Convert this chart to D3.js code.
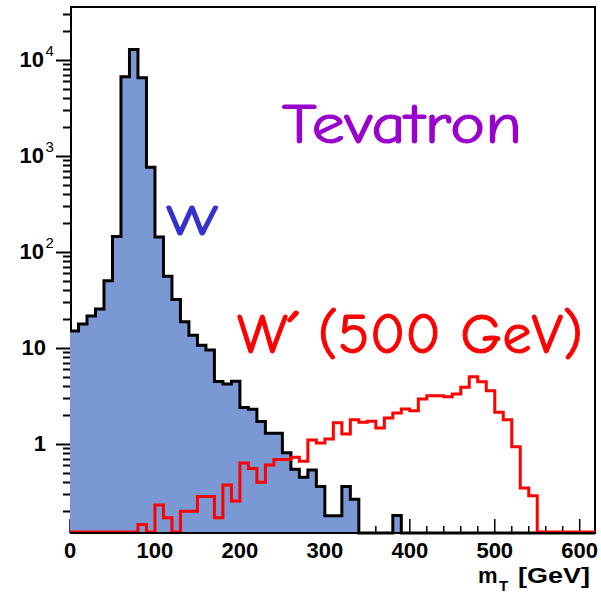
<!DOCTYPE html>
<html>
<head>
<meta charset="utf-8">
<script src="https://cdn.jsdelivr.net/npm/d3@7"></script>
<style>
  html, body { margin: 0; padding: 0; background: #fff; }
  svg { display: block; }
</style>
</head>
<body>
<script>
// Transverse mass spectra, 10 GeV bins
const binLow = [
  0, 10, 20, 30, 40, 50, 60, 70, 80, 90,
  100, 110, 120, 130, 140, 150, 160, 170, 180, 190,
  200, 210, 220, 230, 240, 250, 260, 270, 280, 290,
  300, 310, 320, 330, 340, 350, 360, 370, 380, 390,
  400, 410, 420, 430, 440, 450, 460, 470, 480, 490,
  500, 510, 520, 530, 540, 550, 560, 570, 580, 590,
  600, 610
];
const binWidth = 10;

// Standard Model W events
const wCounts = [
  15, 17.8, 21.5, 25.5, 50, 145, 6700, 12900, 6540, 765,
  143, 56, 32, 18.8, 13.6, 10.7, 9.5, 4.46, 4.2, 4.5,
  2.39, 2.3, 1.71, 1.29, 1.29, 0.81, 0.545, 0.45, 0.536, 0.36,
  0.178, 0.178, 0.36, 0.265, 0, 0, 0, 0, 0.18, 0,
  0, 0, 0, 0, 0, 0, 0, 0, 0, 0,
  0, 0, 0, 0, 0, 0, 0, 0, 0, 0,
  0, 0
];

// W' signal, 500 GeV
const wPrimeCounts = [
  0, 0, 0, 0, 0, 0, 0, 0, 0.141, 0,
  0.226, 0.166, 0, 0.194, 0.194, 0.276, 0.276, 0.166, 0.365, 0.249,
  0.617, 0.54, 0.39, 0.59, 0.67, 0.67, 0.71, 0.645, 1.07, 1.0,
  1.1, 1.62, 1.24, 1.74, 1.64, 1.68, 1.43, 1.82, 2.05, 2.26,
  2.17, 2.87, 3.11, 3.11, 3.03, 3.24, 3.8, 4.9, 4.35, 3.5,
  2.09, 1.74, 0.915, 0.34, 0.282, 0, 0, 0, 0, 0,
  0, 0
];

const xMajorTicks = [0, 100, 200, 300, 400, 500, 600];
const yDecadeLabels = [
  { v: 1, base: "1", exp: null },
  { v: 10, base: "10", exp: null },
  { v: 100, base: "10", exp: "2" },
  { v: 1000, base: "10", exp: "3" },
  { v: 10000, base: "10", exp: "4" }
];

const W = 601, H = 593;
const padL = 70, padR = 595, padT = 7, padB = 533;

const x = d3.scaleLinear().domain([0, 618]).range([padL, padR]);
const y = d3.scaleLog().domain([0.118, 35700]).range([padB, padT]);

const svg = d3.select("body").append("svg")
  .attr("width", W).attr("height", H);

const defs = svg.append("defs");
defs.append("clipPath").attr("id", "plotClip")
  .append("rect").attr("x", padL).attr("y", padT - 2)
  .attr("width", padR - padL).attr("height", padB - padT + 4);

// Frame
svg.append("rect")
  .attr("x", padL + 1).attr("y", padT).attr("width", padR - padL - 1).attr("height", padB - padT)
  .attr("fill", "none").attr("stroke", "#000").attr("stroke-width", 2);

// Y ticks (log minor ticks, outside)
const yMin = y.domain()[0], yMax = y.domain()[1];
const yTickVals = [];
for (let e = -1; e <= 4; e++) {
  for (let m = 1; m <= 9; m++) {
    const v = m * Math.pow(10, e);
    if (v >= yMin && v <= yMax) yTickVals.push({ v, major: m === 1 });
  }
}
svg.append("g").selectAll("line").data(yTickVals).join("line")
  .attr("x1", d => d.major ? 56 : 63).attr("x2", padL + 1)
  .attr("y1", d => Math.round(y(d.v)) + 0.5).attr("y2", d => Math.round(y(d.v)) + 0.5)
  .attr("stroke", "#000").attr("stroke-width", 2);

// X ticks (inside)
const xTickVals = [];
for (let v = 0; v <= 618; v += 20) xTickVals.push({ v, major: v % 100 === 0 });
svg.append("g").selectAll("line").data(xTickVals).join("line")
  .attr("x1", d => x(d.v)).attr("x2", d => x(d.v))
  .attr("y1", padB).attr("y2", d => padB - (d.major ? 14 : 7))
  .attr("stroke", "#000").attr("stroke-width", 1.5);

// Histograms
const hv = v => v > 0 ? y(v) : padB;
function stepPoints(vals) {
  const pts = binLow.map((lo, i) => [x(lo), hv(vals[i])]);
  pts.push([x(binLow[binLow.length - 1] + binWidth), hv(vals[vals.length - 1])]);
  return pts;
}
const plot = svg.append("g").attr("clip-path", "url(#plotClip)");

const wPts = stepPoints(wCounts);
plot.append("path")
  .attr("d", d3.area().curve(d3.curveStepAfter).x(d => d[0]).y0(padB).y1(d => d[1])(wPts))
  .attr("fill", "#7a99d4");

// Bottom axis line stays visible under the fill edge
svg.append("line").attr("x1", padL).attr("x2", padR + 1)
  .attr("y1", padB).attr("y2", padB).attr("stroke", "#000").attr("stroke-width", 2);

plot.append("path")
  .attr("d", d3.line().curve(d3.curveStepAfter).x(d => d[0]).y(d => d[1])(wPts))
  .attr("fill", "none").attr("stroke", "#000").attr("stroke-width", 3);

const wpPts = stepPoints(wPrimeCounts);
plot.append("path")
  .attr("d", d3.line().curve(d3.curveStepAfter).x(d => d[0]).y(d => d[1] - 1)(wpPts))
  .attr("fill", "none").attr("stroke", "#ff0000").attr("stroke-width", 3);

// Axis labels
const tickFont = "'Liberation Sans', Arial, Helvetica, sans-serif";
svg.append("g").selectAll("text").data(xMajorTicks).join("text")
  .attr("x", d => x(d)).attr("y", 558)
  .attr("text-anchor", "middle")
  .attr("font-family", tickFont).attr("font-weight", "bold").attr("font-size", 22)
  .text(d => d);

const yl = svg.append("g");
yDecadeLabels.forEach(d => {
  const yy = y(d.v) + 7;
  if (d.exp === null) {
    yl.append("text").attr("x", 46).attr("y", yy).attr("text-anchor", "end")
      .attr("font-family", tickFont).attr("font-weight", "bold").attr("font-size", 22)
      .text(d.base);
  } else {
    yl.append("text").attr("x", 44).attr("y", yy).attr("text-anchor", "end")
      .attr("font-family", tickFont).attr("font-weight", "bold").attr("font-size", 22)
      .text(d.base);
    yl.append("text").attr("x", 45.5).attr("y", yy - 11)
      .attr("font-family", tickFont).attr("font-size", 15)
      .text(d.exp);
  }
});

// x-axis title: m_T [GeV]
svg.append("text").attr("x", 478).attr("y", 583)
  .attr("font-family", tickFont).attr("font-weight", "bold").attr("font-size", 22).text("m");
svg.append("text").attr("x", 499).attr("y", 591)
  .attr("font-family", tickFont).attr("font-weight", "bold").attr("font-size", 15).text("T");
svg.append("text").attr("x", 518).attr("y", 583).attr("textLength", 72).attr("lengthAdjust", "spacingAndGlyphs")
  .attr("font-family", tickFont).attr("font-weight", "bold").attr("font-size", 22).text("[GeV]");

// Annotations (handwritten style, lightly stroked for heavier lines)
const handFont = "'Comic Sans MS', 'Comic Neue', 'Open Sans', 'DejaVu Sans', sans-serif";
function note(xp, yp, len, size, color, txt) {
  svg.append("text").attr("x", xp).attr("y", yp)
    .attr("textLength", len).attr("lengthAdjust", "spacingAndGlyphs")
    .attr("font-family", handFont).attr("font-size", size)
    .attr("fill", color).attr("stroke", color).attr("stroke-width", 1)
    .attr("stroke-linejoin", "round")
    .text(txt);
}
note(282, 143, 240, 56, "#9900cc", "Tevatron");
note(166, 235, 52, 42, "#3333cc", "W");
note(237, 353, 346, 56, "#ff0000", "W\u00B4 (500 GeV)");
</script>
</body>
</html>
